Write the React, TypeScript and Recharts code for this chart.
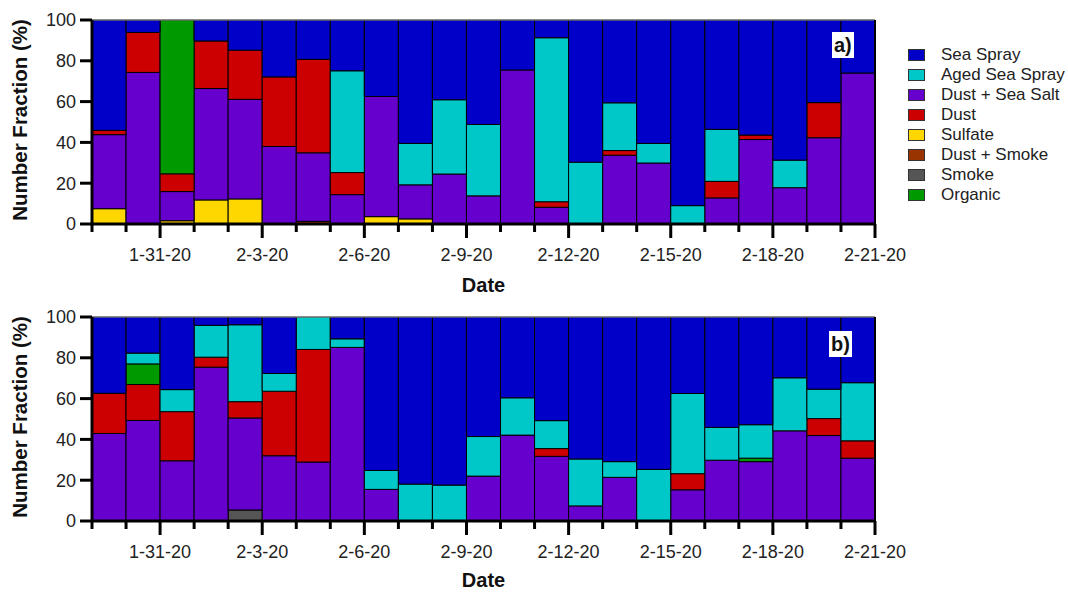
import React from 'react';
import { BarChart, Bar, XAxis, YAxis, ReferenceLine } from 'recharts';

const FONT = '"Liberation Sans", Arial, Helvetica, sans-serif';

const DAYS = [
  '1-29-20', '1-30-20', '1-31-20', '2-1-20', '2-2-20', '2-3-20', '2-4-20', '2-5-20',
  '2-6-20', '2-7-20', '2-8-20', '2-9-20', '2-10-20', '2-11-20', '2-12-20', '2-13-20',
  '2-14-20', '2-15-20', '2-16-20', '2-17-20', '2-18-20', '2-19-20', '2-20-20',
];
// boundary index (0 = left edge of first bar) at which a labelled major tick sits
const TICK_POS = [2, 5, 8, 11, 14, 17, 20, 23];
const TICK_LABELS = ['1-31-20', '2-3-20', '2-6-20', '2-9-20', '2-12-20', '2-15-20', '2-18-20', '2-21-20'];
const Y_TICKS = [0, 20, 40, 60, 80, 100];

// Panel a
const seaSprayA = [54.1, 6.1, 0, 10.3, 14.8, 27.9, 19.3, 24.9, 37.5, 60.5, 39.1, 51.2, 24.5, 8.7, 69.7, 40.6, 60.5, 91.0, 53.6, 56.4, 68.7, 40.5, 26.0];
const agedA = [0, 0, 0, 0, 0, 0, 0, 49.9, 0, 20.3, 36.4, 35.0, 0, 80.4, 30.3, 23.4, 9.6, 9.0, 25.5, 0, 13.5, 0, 0];
const dssA = [36.3, 74.3, 14.3, 54.6, 48.8, 38.0, 33.6, 14.4, 58.9, 16.7, 24.5, 13.8, 75.5, 8.2, 0, 33.7, 29.9, 0, 12.8, 41.4, 17.8, 42.3, 74.0];
const dustA = [2.1, 19.6, 8.7, 23.3, 24.1, 34.1, 45.8, 10.8, 0, 0, 0, 0, 0, 2.7, 0, 2.3, 0, 0, 8.1, 2.2, 0, 17.2, 0];
const sulfateA = [7.5, 0, 1.6, 11.8, 12.3, 0, 0, 0, 3.6, 2.5, 0, 0, 0, 0, 0, 0, 0, 0, 0, 0, 0, 0, 0];
const dustSmokeA = [0, 0, 0, 0, 0, 0, 1.3, 0, 0, 0, 0, 0, 0, 0, 0, 0, 0, 0, 0, 0, 0, 0, 0];
const smokeA = [0, 0, 0, 0, 0, 0, 0, 0, 0, 0, 0, 0, 0, 0, 0, 0, 0, 0, 0, 0, 0, 0, 0];
const organicA = [0, 0, 75.4, 0, 0, 0, 0, 0, 0, 0, 0, 0, 0, 0, 0, 0, 0, 0, 0, 0, 0, 0, 0];

// Panel b
const seaSprayB = [37.4, 17.7, 35.6, 4.1, 3.8, 27.7, 0, 10.7, 75.2, 81.9, 82.4, 58.6, 39.6, 50.8, 69.6, 70.9, 74.7, 37.5, 54.1, 52.8, 29.8, 35.4, 32.2];
const agedB = [0, 5.3, 10.8, 15.6, 37.7, 8.7, 15.9, 4.2, 9.3, 18.1, 17.6, 19.4, 18.3, 13.7, 23.0, 7.7, 25.3, 39.3, 16.1, 16.4, 26.0, 14.4, 28.5];
const dssB = [42.9, 49.3, 29.5, 75.4, 45.1, 32.0, 28.9, 85.1, 15.5, 0, 0, 22.0, 42.1, 31.7, 7.4, 21.4, 0, 15.3, 29.8, 29.1, 44.2, 41.9, 30.8];
const dustB = [19.7, 17.6, 24.1, 4.9, 8.0, 31.6, 55.2, 0, 0, 0, 0, 0, 0, 3.8, 0, 0, 0, 7.9, 0, 0, 0, 8.3, 8.5];
const sulfateB = [0, 0, 0, 0, 0, 0, 0, 0, 0, 0, 0, 0, 0, 0, 0, 0, 0, 0, 0, 0, 0, 0, 0];
const dustSmokeB = [0, 0, 0, 0, 0, 0, 0, 0, 0, 0, 0, 0, 0, 0, 0, 0, 0, 0, 0, 0, 0, 0, 0];
const smokeB = [0, 0, 0, 0, 5.4, 0, 0, 0, 0, 0, 0, 0, 0, 0, 0, 0, 0, 0, 0, 0, 0, 0, 0];
const organicB = [0, 10.1, 0, 0, 0, 0, 0, 0, 0, 0, 0, 0, 0, 0, 0, 0, 0, 0, 0, 1.7, 0, 0, 0];

// stacking order, bottom to top
const STACK = ['smoke', 'dustSmoke', 'sulfate', 'dss', 'dust', 'organic', 'aged', 'seaSpray'];
const LEGEND_ORDER = ['seaSpray', 'aged', 'dss', 'dust', 'sulfate', 'dustSmoke', 'smoke', 'organic'];
const NAMES: Record<string, string> = {
  seaSpray: 'Sea Spray',
  aged: 'Aged Sea Spray',
  dss: 'Dust + Sea Salt',
  dust: 'Dust',
  sulfate: 'Sulfate',
  dustSmoke: 'Dust + Smoke',
  smoke: 'Smoke',
  organic: 'Organic',
};
const COLORS: Record<string, string> = {
  seaSpray: '#0000C8',
  aged: '#00C8C8',
  dss: '#6600CC',
  dust: '#CC0000',
  sulfate: '#FFD700',
  dustSmoke: '#993300',
  smoke: '#555555',
  organic: '#009900',
};

const buildRows = (s: Record<string, number[]>) =>
  DAYS.map((day, i) => {
    const row: Record<string, number | string> = { day };
    STACK.forEach((k) => {
      row[k] = s[k][i];
    });
    return row;
  });

const dataA = buildRows({
  seaSpray: seaSprayA, aged: agedA, dss: dssA, dust: dustA,
  sulfate: sulfateA, dustSmoke: dustSmokeA, smoke: smokeA, organic: organicA,
});
const dataB = buildRows({
  seaSpray: seaSprayB, aged: agedB, dss: dssB, dust: dustB,
  sulfate: sulfateB, dustSmoke: dustSmokeB, smoke: smokeB, organic: organicB,
});

const BoundaryTick = ({ x, y, b }: { x: number; y: number; b: number }) => {
  const idx = TICK_POS.indexOf(b);
  const major = idx >= 0;
  return (
    <g>
      <line x1={x} x2={x} y1={y} y2={y + (major ? 14 : 8)} stroke="#000" strokeWidth={3} />
      {major && (
        <text x={x} y={y + 31} textAnchor="middle" dominantBaseline="central" fontSize={18} fill="#222" fontFamily={FONT}>
          {TICK_LABELS[idx]}
        </text>
      )}
    </g>
  );
};

const DateTick = (props: any) => {
  const { x, y, payload, index } = props;
  const half = payload.offset || 0;
  const i = typeof index === 'number' ? index : payload.index;
  return (
    <g>
      <BoundaryTick x={x - half} y={y} b={i} />
      {i === DAYS.length - 1 && <BoundaryTick x={x + half} y={y} b={i + 1} />}
    </g>
  );
};

const YLabel = (props: any) => {
  const vb = props.viewBox || {};
  const cx = 19;
  const cy = vb.y + vb.height / 2 - 2;
  return (
    <text
      x={cx}
      y={cy}
      transform={`rotate(-90, ${cx}, ${cy})`}
      textAnchor="middle"
      dominantBaseline="central"
      fontSize={20.5}
      fontWeight="bold"
      fill="#111"
      fontFamily={FONT}
    >
      Number Fraction (%)
    </text>
  );
};

const makeXLabel = (dy: number) => (props: any) => {
  const vb = props.viewBox || {};
  return (
    <text
      x={vb.x + vb.width / 2}
      y={vb.y + dy}
      textAnchor="middle"
      dominantBaseline="central"
      fontSize={20}
      fontWeight="bold"
      fill="#111"
      fontFamily={FONT}
    >
      Date
    </text>
  );
};

const LegendBox = () => (
  <div style={{ position: 'absolute', left: 908, top: 45, fontFamily: FONT, fontSize: 17, color: '#222' }}>
    {LEGEND_ORDER.map((k) => (
      <div key={k} style={{ display: 'flex', alignItems: 'center', height: 20 }}>
        <span
          style={{
            display: 'inline-block',
            width: 17,
            height: 12,
            background: COLORS[k],
            border: '1px solid #333',
            boxSizing: 'border-box',
            marginRight: 16,
          }}
        />
        <span style={{ whiteSpace: 'nowrap' }}>{NAMES[k]}</span>
      </div>
    ))}
  </div>
);

const Panel = ({ data, tag, showLegend, dateDy }: { data: any[]; tag: string; showLegend: boolean; dateDy: number }) => {
  const XLabel = makeXLabel(dateDy);
  return (
    <div style={{ position: 'relative', width: 1068, height: 304 }}>
      <BarChart
        width={1068}
        height={304}
        data={data}
        margin={{ top: 20, right: 168, left: 0, bottom: 0 }}
        barCategoryGap={0}
        barGap={0}
      >
        <XAxis
          dataKey="day"
          interval={0}
          height={80}
          tickSize={0}
          tickMargin={0}
          tickLine={false}
          tick={<DateTick />}
          axisLine={{ stroke: '#000', strokeWidth: 3 }}
          label={XLabel}
        />
        <YAxis
          domain={[0, 100]}
          ticks={Y_TICKS}
          width={92}
          tickSize={12}
          tickMargin={4}
          tickLine={{ stroke: '#000', strokeWidth: 3 }}
          axisLine={{ stroke: '#000', strokeWidth: 3 }}
          tick={{ fontSize: 18, fill: '#222', fontFamily: FONT }}
          label={<YLabel />}
        />
        <YAxis
          yAxisId="r"
          orientation="right"
          domain={[0, 100]}
          ticks={Y_TICKS}
          width={25}
          tickSize={13}
          tickLine={{ stroke: '#000', strokeWidth: 3 }}
          axisLine={{ stroke: '#000', strokeWidth: 2 }}
          tick={() => <g />}
        />
        {STACK.map((k) => (
          <Bar
            key={k}
            dataKey={k}
            name={NAMES[k]}
            stackId="s"
            fill={COLORS[k]}
            stroke="#000"
            strokeWidth={1}
            isAnimationActive={false}
          />
        ))}
        <ReferenceLine y={100} stroke="#999" strokeWidth={1} />
      </BarChart>
      {showLegend && <LegendBox />}
      <div
        style={{
          position: 'absolute',
          left: tag === 'a)' ? 832 : 829,
          top: tag === 'a)' ? 32 : 34,
          background: '#fff',
          fontFamily: FONT,
          fontWeight: 'bold',
          fontSize: 20,
          lineHeight: '26px',
          padding: '0 2px',
          color: '#111',
        }}
      >
        {tag}
      </div>
    </div>
  );
};

export default function App() {
  return (
    <div
      style={{
        position: 'absolute',
        left: 0,
        top: 0,
        width: 1068,
        height: 592,
        background: '#fff',
        overflow: 'hidden',
      }}
    >
      <div style={{ position: 'absolute', left: 0, top: 0 }}>
        <Panel data={dataA} tag="a)" showLegend dateDy={61} />
      </div>
      <div style={{ position: 'absolute', left: 0, top: 297 }}>
        <Panel data={dataB} tag="b)" showLegend={false} dateDy={59} />
      </div>
    </div>
  );
}
